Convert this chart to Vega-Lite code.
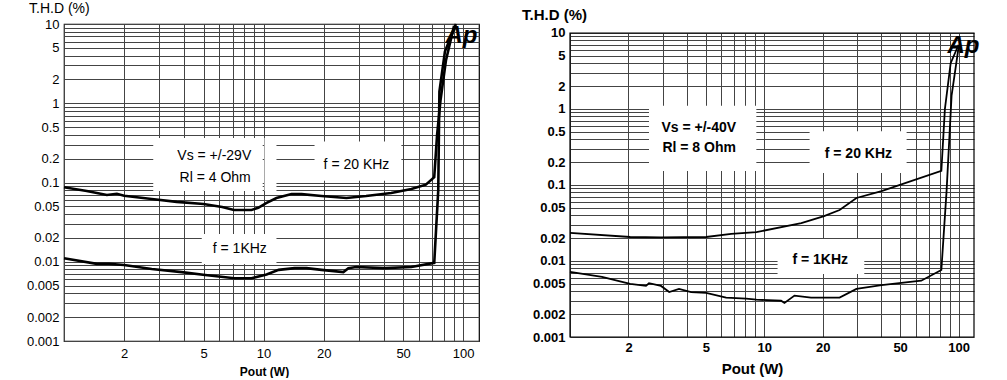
{
  "$schema": "https://vega.github.io/schema/vega-lite/v6.json",
  "padding": {"left": 25, "top": 1, "right": 0, "bottom": 0},
  "spacing": 42,
  "config": {"view": {"stroke": "black", "strokeWidth": 1.2}, "font": "Liberation Sans"},
  "datasets": {
    "curvesL": [
      {"f": "20k", "P": 1, "THD": 0.087}, {"f": "20k", "P": 1.3, "THD": 0.078}, {"f": "20k", "P": 1.64, "THD": 0.0695}, {"f": "20k", "P": 1.84, "THD": 0.072}, {"f": "20k", "P": 2, "THD": 0.068}, {"f": "20k", "P": 2.75, "THD": 0.062}, {"f": "20k", "P": 3.67, "THD": 0.057}, {"f": "20k", "P": 5, "THD": 0.0535}, {"f": "20k", "P": 6.2, "THD": 0.049}, {"f": "20k", "P": 7.1, "THD": 0.045}, {"f": "20k", "P": 8.7, "THD": 0.045}, {"f": "20k", "P": 9.4, "THD": 0.048}, {"f": "20k", "P": 10.3, "THD": 0.055}, {"f": "20k", "P": 11.6, "THD": 0.0637}, {"f": "20k", "P": 13.8, "THD": 0.0714}, {"f": "20k", "P": 15.5, "THD": 0.0714}, {"f": "20k", "P": 19.5, "THD": 0.0674}, {"f": "20k", "P": 26, "THD": 0.0637}, {"f": "20k", "P": 32.6, "THD": 0.0674}, {"f": "20k", "P": 43.6, "THD": 0.0738}, {"f": "20k", "P": 55, "THD": 0.083}, {"f": "20k", "P": 65, "THD": 0.094}, {"f": "20k", "P": 71.6, "THD": 0.117}, {"f": "20k", "P": 74, "THD": 0.4}, {"f": "20k", "P": 77, "THD": 1.1}, {"f": "20k", "P": 82, "THD": 3.5}, {"f": "20k", "P": 90, "THD": 9.5},
      {"f": "1k", "P": 1, "THD": 0.0111}, {"f": "1k", "P": 1.46, "THD": 0.0094}, {"f": "1k", "P": 1.68, "THD": 0.0094}, {"f": "1k", "P": 2, "THD": 0.0091}, {"f": "1k", "P": 2.75, "THD": 0.0081}, {"f": "1k", "P": 3.89, "THD": 0.0074}, {"f": "1k", "P": 5.1, "THD": 0.0068}, {"f": "1k", "P": 7.15, "THD": 0.0062}, {"f": "1k", "P": 8.7, "THD": 0.0062}, {"f": "1k", "P": 10.35, "THD": 0.0069}, {"f": "1k", "P": 11.9, "THD": 0.0079}, {"f": "1k", "P": 14.3, "THD": 0.0083}, {"f": "1k", "P": 16.4, "THD": 0.0083}, {"f": "1k", "P": 19.5, "THD": 0.0079}, {"f": "1k", "P": 25.1, "THD": 0.0074}, {"f": "1k", "P": 26.6, "THD": 0.0083}, {"f": "1k", "P": 29.1, "THD": 0.0086}, {"f": "1k", "P": 40.3, "THD": 0.0083}, {"f": "1k", "P": 55, "THD": 0.0086}, {"f": "1k", "P": 71.6, "THD": 0.0097}, {"f": "1k", "P": 75, "THD": 0.08}, {"f": "1k", "P": 76, "THD": 1.4}, {"f": "1k", "P": 81, "THD": 4.5}, {"f": "1k", "P": 92, "THD": 10}
    ],
    "boxesL": [
      {"P": 2.8, "P2": 9.9, "THD": 0.078, "THD2": 0.365},
      {"P": 10.1, "P2": 11.6, "THD": 0.078, "THD2": 0.365},
      {"P": 18, "P2": 49, "THD": 0.105, "THD2": 0.33},
      {"P": 4.9, "P2": 11.6, "THD": 0.0094, "THD2": 0.0224}
    ],
    "labelsL": [
      {"P": 5.66, "THD": 0.216, "label": "Vs = +/-29V"},
      {"P": 5.72, "THD": 0.114, "label": "Rl = 4 Ohm"},
      {"P": 29.2, "THD": 0.166, "label": "f = 20 KHz"},
      {"P": 7.6, "THD": 0.0145, "label": "f = 1KHz"}
    ],
    "logoL": [{"P": 98, "THD": 7.1, "label": "Ap"}],
    "curvesR": [
      {"f": "20k", "P": 1, "THD": 0.0234}, {"f": "20k", "P": 2.04, "THD": 0.0207}, {"f": "20k", "P": 2.94, "THD": 0.0205}, {"f": "20k", "P": 5.02, "THD": 0.0207}, {"f": "20k", "P": 6.76, "THD": 0.0228}, {"f": "20k", "P": 9.1, "THD": 0.024}, {"f": "20k", "P": 15.5, "THD": 0.0316}, {"f": "20k", "P": 20.3, "THD": 0.0389}, {"f": "20k", "P": 24.4, "THD": 0.0469}, {"f": "20k", "P": 29.8, "THD": 0.0675}, {"f": "20k", "P": 40.1, "THD": 0.083}, {"f": "20k", "P": 81.5, "THD": 0.153}, {"f": "20k", "P": 85, "THD": 1}, {"f": "20k", "P": 91, "THD": 4}, {"f": "20k", "P": 100, "THD": 7},
      {"f": "1k", "P": 1, "THD": 0.00717}, {"f": "1k", "P": 1.46, "THD": 0.0062}, {"f": "1k", "P": 2.04, "THD": 0.005}, {"f": "1k", "P": 2.46, "THD": 0.0047}, {"f": "1k", "P": 2.55, "THD": 0.0051}, {"f": "1k", "P": 2.94, "THD": 0.0047}, {"f": "1k", "P": 3.24, "THD": 0.0039}, {"f": "1k", "P": 3.64, "THD": 0.0043}, {"f": "1k", "P": 4.2, "THD": 0.0039}, {"f": "1k", "P": 5.02, "THD": 0.0038}, {"f": "1k", "P": 6.36, "THD": 0.0033}, {"f": "1k", "P": 8.07, "THD": 0.0032}, {"f": "1k", "P": 9.1, "THD": 0.0031}, {"f": "1k", "P": 12.2, "THD": 0.003}, {"f": "1k", "P": 12.7, "THD": 0.0028}, {"f": "1k", "P": 14.3, "THD": 0.0035}, {"f": "1k", "P": 17.4, "THD": 0.0033}, {"f": "1k", "P": 24.4, "THD": 0.0033}, {"f": "1k", "P": 29.8, "THD": 0.0043}, {"f": "1k", "P": 40.1, "THD": 0.0048}, {"f": "1k", "P": 64.2, "THD": 0.0055}, {"f": "1k", "P": 81.5, "THD": 0.0076}, {"f": "1k", "P": 86.7, "THD": 0.083}, {"f": "1k", "P": 92, "THD": 1.5}, {"f": "1k", "P": 100, "THD": 6.5}
    ],
    "boxesR": [
      {"P": 2.55, "P2": 9.1, "THD": 0.153, "THD2": 1.1},
      {"P": 17.1, "P2": 54, "THD": 0.144, "THD2": 0.51},
      {"P": 11.7, "P2": 32.7, "THD": 0.00675, "THD2": 0.0195}
    ],
    "coverR": [{"P": 1, "P2": 120, "THD": 10, "THD2": 13.13}],
    "frameR": [{"P": 1, "P2": 120, "THD": 0.001, "THD2": 10}],
    "labelsR": [
      {"P": 4.6, "THD": 0.56, "label": "Vs = +/-40V"},
      {"P": 4.62, "THD": 0.307, "label": "Rl = 8 Ohm"},
      {"P": 30.5, "THD": 0.256, "label": "f = 20 KHz"},
      {"P": 19.4, "THD": 0.0103, "label": "f = 1KHz"}
    ],
    "logoR": [{"P": 106, "THD": 6.7, "label": "Ap"}]
  },
  "hconcat": [
    {
      "width": 415,
      "height": 317,
      "title": {"text": "T.H.D (%)", "anchor": "start", "frame": "group", "dx": -35, "fontSize": 14, "fontWeight": "normal", "font": "Liberation Sans", "color": "black", "offset": 2},
      "encoding": {
        "x": {"field": "P", "type": "quantitative", "scale": {"type": "log", "domain": [1, 120], "nice": false},
          "axis": {"values": [1,2,3,4,5,6,7,8,9,10,20,30,40,50,60,70,80,90,100], "format": "~g",
            "labelExpr": "indexof([2,5,10,20,50,100], datum.value) >= 0 ? datum.label : ''",
            "grid": true, "gridColor": "#444", "gridWidth": 1, "gridOpacity": 1, "ticks": false, "domain": false,
            "labelFont": "Liberation Sans", "labelFontSize": 13, "labelColor": "black", "labelPadding": 6, "labelFlush": false, "labelOverlap": false,
            "title": "Pout (W)", "titleFont": "Liberation Sans", "titleFontSize": 12, "titleFontWeight": "bold", "titleColor": "black", "titlePadding": 6, "titleX": 200}},
        "y": {"field": "THD", "type": "quantitative", "scale": {"type": "log", "domain": [0.001, 10], "nice": false},
          "axis": {"values": [0.001,0.002,0.003,0.004,0.005,0.006,0.007,0.008,0.009,0.01,0.02,0.03,0.04,0.05,0.06,0.07,0.08,0.09,0.1,0.2,0.3,0.4,0.5,0.6,0.7,0.8,0.9,1,2,3,4,5,6,7,8,9,10], "format": "~g",
            "labelExpr": "indexof([0.001,0.002,0.005,0.01,0.02,0.05,0.1,0.2,0.5,1,2,5,10], datum.value) >= 0 ? datum.label : ''",
            "grid": true, "gridColor": "#444", "gridWidth": 1, "gridOpacity": 1, "ticks": false, "domain": false,
            "labelFont": "Liberation Sans", "labelFontSize": 13, "labelColor": "black", "labelPadding": 5, "labelFlush": false, "labelOverlap": false,
            "title": null}}
      },
      "layer": [
        {"data": {"name": "boxesL"}, "mark": {"type": "rect", "fill": "white"}, "encoding": {"x2": {"field": "P2"}, "y2": {"field": "THD2"}}},
        {"data": {"name": "curvesL"}, "mark": {"type": "line", "stroke": "black", "strokeWidth": 2.6}, "encoding": {"detail": {"field": "f"}}},
        {"data": {"name": "labelsL"}, "mark": {"type": "text", "font": "Liberation Sans", "fontSize": 14, "color": "black", "align": "center", "baseline": "middle"}, "encoding": {"text": {"field": "label"}}},
        {"data": {"name": "logoL"}, "mark": {"type": "text", "font": "Liberation Sans", "fontSize": 24, "fontWeight": "bold", "fontStyle": "italic", "color": "black", "align": "center", "baseline": "middle"}, "encoding": {"text": {"field": "label"}}}
      ]
    },
    {
      "width": 404,
      "height": 313,
      "view": {"stroke": null},
      "title": {"text": "T.H.D (%)", "anchor": "start", "frame": "group", "dx": -48, "fontSize": 15, "fontWeight": "bold", "font": "Liberation Sans", "color": "black", "offset": 1},
      "encoding": {
        "x": {"field": "P", "type": "quantitative", "scale": {"type": "log", "domain": [1, 120], "nice": false},
          "axis": {"values": [1,2,3,4,5,6,7,8,9,10,20,30,40,50,60,70,80,90,100], "format": "~g",
            "labelExpr": "indexof([2,5,10,20,50,100], datum.value) >= 0 ? datum.label : ''",
            "grid": true, "gridColor": "#444", "gridWidth": 1, "gridOpacity": 1, "ticks": false, "domain": false,
            "labelFont": "Liberation Sans", "labelFontSize": 13, "labelFontWeight": "bold", "labelColor": "black", "labelPadding": 4, "labelFlush": false, "labelOverlap": false,
            "title": "Pout (W)", "titleFont": "Liberation Sans", "titleFontSize": 15, "titleFontWeight": "bold", "titleColor": "black", "titlePadding": 7, "titleX": 182}},
        "y": {"field": "THD", "type": "quantitative", "scale": {"type": "log", "domain": [0.001, 13.13], "nice": false},
          "axis": {"values": [0.001,0.002,0.003,0.004,0.005,0.006,0.007,0.008,0.009,0.01,0.02,0.03,0.04,0.05,0.06,0.07,0.08,0.09,0.1,0.2,0.3,0.4,0.5,0.6,0.7,0.8,0.9,1,2,3,4,5,6,7,8,9,10], "format": "~g",
            "labelExpr": "indexof([0.001,0.002,0.005,0.01,0.02,0.05,0.1,0.2,0.5,1,2,5,10], datum.value) >= 0 ? datum.label : ''",
            "grid": true, "gridColor": "#444", "gridWidth": 1, "gridOpacity": 1, "ticks": false, "domain": false,
            "labelFont": "Liberation Sans", "labelFontSize": 13, "labelFontWeight": "bold", "labelColor": "black", "labelPadding": 5, "labelFlush": false, "labelOverlap": false,
            "title": null}}
      },
      "layer": [
        {"data": {"name": "coverR"}, "mark": {"type": "rect", "fill": "white"}, "encoding": {"x2": {"field": "P2"}, "y2": {"field": "THD2"}}},
        {"data": {"name": "boxesR"}, "mark": {"type": "rect", "fill": "white"}, "encoding": {"x2": {"field": "P2"}, "y2": {"field": "THD2"}}},
        {"data": {"name": "frameR"}, "mark": {"type": "rect", "fill": null, "fillOpacity": 0, "stroke": "black", "strokeWidth": 1.2}, "encoding": {"x2": {"field": "P2"}, "y2": {"field": "THD2"}}},
        {"data": {"name": "curvesR"}, "mark": {"type": "line", "stroke": "black", "strokeWidth": 1.8}, "encoding": {"detail": {"field": "f"}}},
        {"data": {"name": "labelsR"}, "mark": {"type": "text", "font": "Liberation Sans", "fontSize": 14, "fontWeight": "bold", "color": "black", "align": "center", "baseline": "middle"}, "encoding": {"text": {"field": "label"}}},
        {"data": {"name": "logoR"}, "mark": {"type": "text", "font": "Liberation Sans", "fontSize": 24, "fontWeight": "bold", "fontStyle": "italic", "color": "black", "align": "center", "baseline": "middle"}, "encoding": {"text": {"field": "label"}}}
      ]
    }
  ]
}
